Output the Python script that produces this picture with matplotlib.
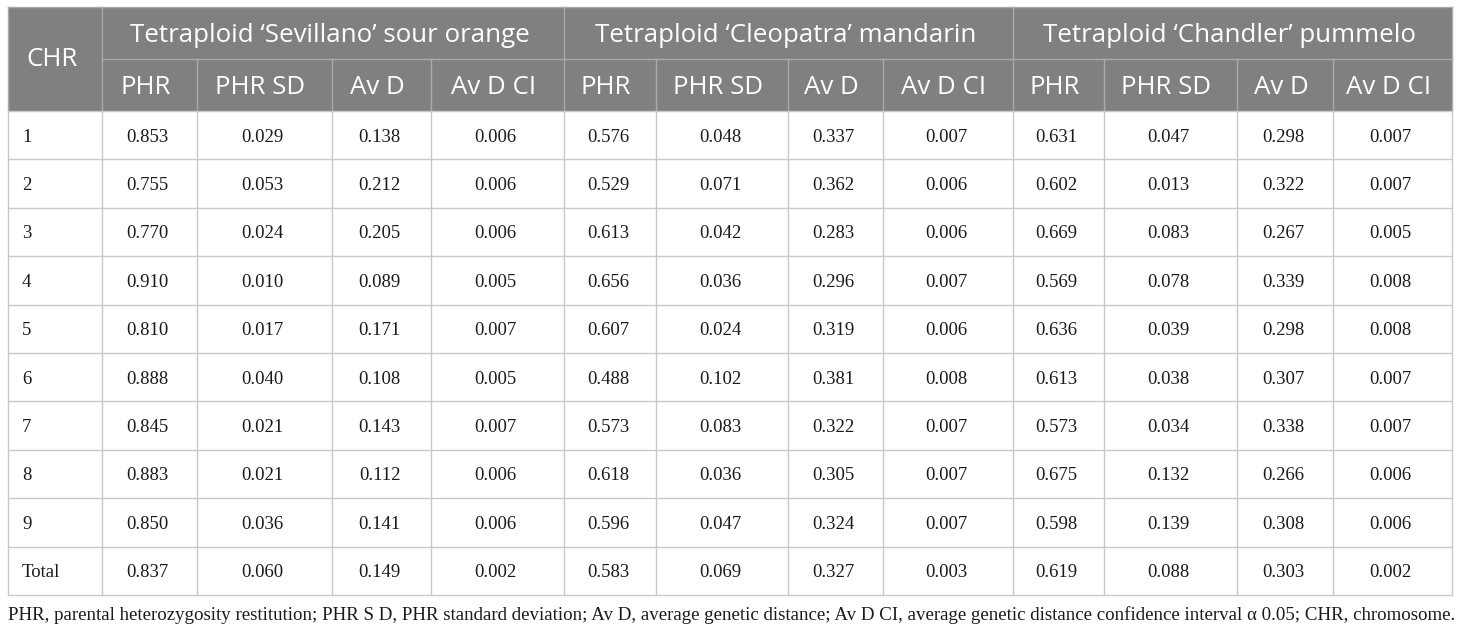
import matplotlib
matplotlib.use("Agg")
import matplotlib.pyplot as plt
from matplotlib.patches import Rectangle

# ---- data ----
groups = ["Tetraploid \u2018Sevillano\u2019 sour orange",
          "Tetraploid \u2018Cleopatra\u2019 mandarin",
          "Tetraploid \u2018Chandler\u2019 pummelo"]
subcols = ["PHR", "PHR SD", "Av D", "Av D CI"]
chr_labels = ["1", "2", "3", "4", "5", "6", "7", "8", "9", "Total"]

sevillano_phr = ["0.853", "0.755", "0.770", "0.910", "0.810", "0.888", "0.845", "0.883", "0.850", "0.837"]
sevillano_sd = ["0.029", "0.053", "0.024", "0.010", "0.017", "0.040", "0.021", "0.021", "0.036", "0.060"]
sevillano_avd = ["0.138", "0.212", "0.205", "0.089", "0.171", "0.108", "0.143", "0.112", "0.141", "0.149"]
sevillano_ci = ["0.006", "0.006", "0.006", "0.005", "0.007", "0.005", "0.007", "0.006", "0.006", "0.002"]

cleopatra_phr = ["0.576", "0.529", "0.613", "0.656", "0.607", "0.488", "0.573", "0.618", "0.596", "0.583"]
cleopatra_sd = ["0.048", "0.071", "0.042", "0.036", "0.024", "0.102", "0.083", "0.036", "0.047", "0.069"]
cleopatra_avd = ["0.337", "0.362", "0.283", "0.296", "0.319", "0.381", "0.322", "0.305", "0.324", "0.327"]
cleopatra_ci = ["0.007", "0.006", "0.006", "0.007", "0.006", "0.008", "0.007", "0.007", "0.007", "0.003"]

chandler_phr = ["0.631", "0.602", "0.669", "0.569", "0.636", "0.613", "0.573", "0.675", "0.598", "0.619"]
chandler_sd = ["0.047", "0.013", "0.083", "0.078", "0.039", "0.038", "0.034", "0.132", "0.139", "0.088"]
chandler_avd = ["0.298", "0.322", "0.267", "0.339", "0.298", "0.307", "0.338", "0.266", "0.308", "0.303"]
chandler_ci = ["0.007", "0.007", "0.005", "0.008", "0.008", "0.007", "0.007", "0.006", "0.006", "0.002"]

footnote = ("PHR, parental heterozygosity restitution; PHR S D, PHR standard deviation; "
            "Av D, average genetic distance; Av D CI, average genetic distance confidence "
            "interval \u03b1 0.05; CHR, chromosome.")

columns = [sevillano_phr, sevillano_sd, sevillano_avd, sevillano_ci,
           cleopatra_phr, cleopatra_sd, cleopatra_avd, cleopatra_ci,
           chandler_phr, chandler_sd, chandler_avd, chandler_ci]

# ---- layout (pixels) ----
W, H = 1460, 632
xe = [8, 102, 197, 332, 431, 564, 656, 788, 883, 1013, 1104, 1237, 1333, 1452]
y_top, y_mid, y_head = 7, 59, 111
row_h = 48.4
nrows = len(chr_labels)
y_bottom = y_head + nrows * row_h

header_bg = "#808080"
header_line = "#a9a9a9"
body_line = "#c9c9c9"
text_col = "#1a1a1a"
hfont = "Open Sans"
bfont = "Liberation Serif"

fig = plt.figure(figsize=(W / 100, H / 100), dpi=100)
ax = fig.add_axes([0, 0, 1, 1])
ax.set_xlim(0, W)
ax.set_ylim(H, 0)
ax.axis("off")

# header background
ax.add_patch(Rectangle((xe[0], y_top), xe[-1] - xe[0], y_head - y_top,
                       facecolor=header_bg, edgecolor="none", zorder=1))

# header lines
ax.plot([xe[0], xe[-1]], [y_top, y_top], color=header_line, lw=1, zorder=2)
ax.plot([xe[1], xe[-1]], [y_mid, y_mid], color=header_line, lw=1, zorder=2)
for i, x in enumerate(xe):
    if i in (0, 1, 5, 9, 13):
        ax.plot([x, x], [y_top, y_head], color=header_line, lw=1, zorder=2)
    else:
        ax.plot([x, x], [y_mid, y_head], color=header_line, lw=1, zorder=2)

# body lines
for r in range(nrows + 1):
    y = y_head + r * row_h
    ax.plot([xe[0], xe[-1]], [y, y], color=body_line, lw=1, zorder=2)
for x in xe:
    ax.plot([x, x], [y_head, y_bottom], color=body_line, lw=1, zorder=2)

# header texts
hs = 18.6
ax.text((xe[0] + xe[1]) / 2 - 3, (y_top + y_head) / 2 + 1, "CHR", ha="center", va="center",
        color="white", fontsize=hs, family=hfont, zorder=3)
for g, name in enumerate(groups):
    x0, x1 = xe[1 + 4 * g], xe[5 + 4 * g]
    ax.text((x0 + x1) / 2 - 3, (y_top + y_mid) / 2 + 2, name, ha="center", va="center",
            color="white", fontsize=hs, family=hfont, zorder=3)
    for k, sc in enumerate(subcols):
        c0, c1 = xe[1 + 4 * g + k], xe[2 + 4 * g + k]
        ax.text((c0 + c1) / 2 - 4, (y_mid + y_head) / 2 + 2, sc, ha="center", va="center",
                color="white", fontsize=hs, family=hfont, zorder=3)

# body texts
bs = 13.5
for r, lab in enumerate(chr_labels):
    yc = y_head + (r + 0.5) * row_h + 2
    ax.text(xe[0] + 14, yc, lab, ha="left", va="center", color=text_col,
            fontsize=bs, family=bfont, zorder=3)
    for c, col in enumerate(columns):
        xc = (xe[c + 1] + xe[c + 2]) / 2 - 2
        ax.text(xc, yc, col[r], ha="center", va="center", color=text_col,
                fontsize=bs, family=bfont, zorder=3)

ax.text(xe[0], 615, footnote, ha="left", va="center", color=text_col,
        fontsize=13.6, family=bfont, zorder=3)

fig.savefig("out.png", dpi=100)
